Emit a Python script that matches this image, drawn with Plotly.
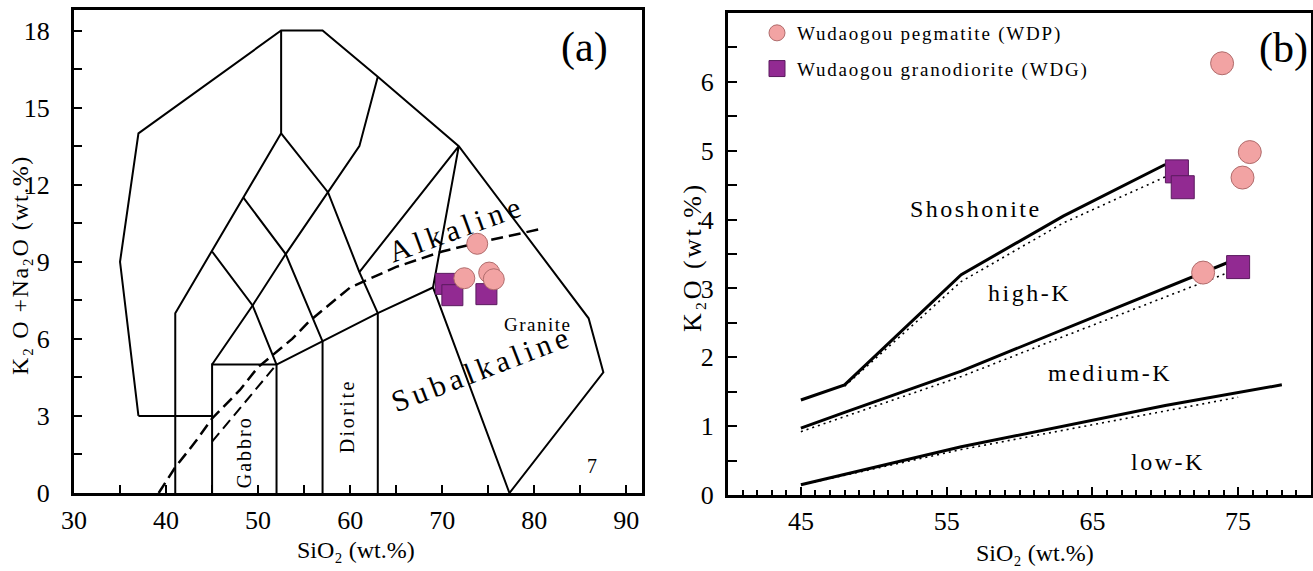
import plotly.graph_objects as go

FONT = "Liberation Serif, Times New Roman, serif"

# ---------------- data: panel (a) TAS ----------------
wdp_a_sio2 = [73.8, 72.4, 75.1, 75.6]
wdp_a_alk = [9.70, 8.36, 8.58, 8.32]
wdg_a_sio2 = [70.4, 71.1, 74.8]
wdg_a_alk = [8.14, 7.70, 7.74]

# TAS field boundaries (Middlemost 1994, plutonic)
tas_outer_x = [37, 35, 37, 52.5, 57, 63, 71.8, 85.9, 87.5, 77.3]
tas_outer_y = [3, 9, 14, 18, 18, 16.2, 13.5, 6.8, 4.7, 0]
tas_lines = [
    ([37, 45], [3, 3]),
    ([41, 41, 52.5, 52.5], [0, 7, 14, 18]),
    ([45, 45, 52, 52], [0, 5, 5, 0]),
    ([45, 49.4, 53, 57.6, 61, 63], [5, 7.3, 9.3, 11.7, 13.5, 16.2]),
    ([45, 49.4, 52], [9.4, 7.3, 5]),
    ([48.4, 53, 57, 57], [11.5, 9.3, 5.9, 0]),
    ([52, 57, 63, 69, 77.3], [5, 5.9, 7, 8, 0]),
    ([52.5, 57.6, 61, 63, 63], [14, 11.7, 8.6, 7, 0]),
    ([61, 71.8, 69], [8.6, 13.5, 8]),
]
# Alkaline / Subalkaline divide (Irvine & Baragar)
ib_x = [39.2, 41, 43.2, 45, 48, 50, 53.7, 55.6, 60, 65, 70, 74, 81]
ib_y = [0, 1, 2, 2.9, 4, 4.9, 6, 6.7, 8, 8.8, 9.4, 9.75, 10.3]
ib2_x = [45, 52]
ib2_y = [2, 5]
tas_xticks = [30, 40, 50, 60, 70, 80, 90]
tas_yticks = [0, 3, 6, 9, 12, 15, 18]

# ---------------- data: panel (b) K2O-SiO2 ----------------
wdp_b_sio2 = [73.9, 75.8, 75.3, 72.6]
wdp_b_k2o = [6.27, 4.98, 4.61, 3.23]
wdg_b_sio2 = [70.8, 71.2, 75.0]
wdg_b_k2o = [4.70, 4.47, 3.31]

k_solid = [
    ([45, 48, 56, 63, 70], [1.38, 1.6, 3.2, 4.05, 4.8]),
    ([45, 48, 56, 63, 70, 74.8], [0.97, 1.2, 1.8, 2.4, 3.0, 3.42]),
    ([45, 56, 70, 78], [0.15, 0.7, 1.3, 1.6]),
]
k_dotted = [
    ([48, 56, 63, 70], [1.58, 3.1, 3.95, 4.62]),
    ([45, 56, 63, 70, 74.2], [0.92, 1.72, 2.3, 2.88, 3.22]),
    ([45.5, 56, 70, 75], [0.17, 0.66, 1.22, 1.42]),
]
k_xticks = [45, 55, 65, 75]
k_yticks = [0, 1, 2, 3, 4, 5, 6]

circle_fill = "#F2A3A3"
circle_line = "#B06C6C"
square_fill = "#922A92"
square_line = "#5A1A5E"


def spaced(text, size, spacing):
    return f'<span style="font-size:{size}px;letter-spacing:{spacing}px">{text}</span>'


fig = go.Figure()

# panel (a) boundaries
fig.add_trace(go.Scatter(x=tas_outer_x, y=tas_outer_y, mode="lines",
                         line=dict(color="black", width=2), showlegend=False,
                         hoverinfo="skip", xaxis="x", yaxis="y"))
for lx, ly in tas_lines:
    fig.add_trace(go.Scatter(x=lx, y=ly, mode="lines",
                             line=dict(color="black", width=2), showlegend=False,
                             hoverinfo="skip", xaxis="x", yaxis="y"))
fig.add_trace(go.Scatter(x=ib_x, y=ib_y, mode="lines",
                         line=dict(color="black", width=2.5, dash="12px,6px"),
                         showlegend=False, hoverinfo="skip", xaxis="x", yaxis="y"))
fig.add_trace(go.Scatter(x=ib2_x, y=ib2_y, mode="lines",
                         line=dict(color="black", width=2, dash="11px,6px"),
                         showlegend=False, hoverinfo="skip", xaxis="x", yaxis="y"))

fig.add_trace(go.Scatter(x=wdg_a_sio2, y=wdg_a_alk, mode="markers",
                         marker=dict(symbol="square", size=21, color=square_fill,
                                     line=dict(color=square_line, width=1)),
                         showlegend=False, xaxis="x", yaxis="y"))
fig.add_trace(go.Scatter(x=wdp_a_sio2, y=wdp_a_alk, mode="markers",
                         marker=dict(symbol="circle", size=21, color=circle_fill,
                                     line=dict(color=circle_line, width=1)),
                         showlegend=False, xaxis="x", yaxis="y"))

# panel (b) lines
for lx, ly in k_solid:
    fig.add_trace(go.Scatter(x=lx, y=ly, mode="lines",
                             line=dict(color="black", width=3), showlegend=False,
                             hoverinfo="skip", xaxis="x2", yaxis="y2"))
for lx, ly in k_dotted:
    fig.add_trace(go.Scatter(x=lx, y=ly, mode="lines",
                             line=dict(color="black", width=1.6, dash="2px,4px"),
                             showlegend=False, hoverinfo="skip", xaxis="x2", yaxis="y2"))

fig.add_trace(go.Scatter(x=wdp_b_sio2, y=wdp_b_k2o, mode="markers",
                         name=spaced("Wudaogou pegmatite (WDP)", 19, 1.8),
                         legendrank=1, legendgroup="p",
                         marker=dict(symbol="circle", size=23, color=circle_fill,
                                     line=dict(color=circle_line, width=1)),
                         xaxis="x2", yaxis="y2"))
fig.add_trace(go.Scatter(x=wdg_b_sio2, y=wdg_b_k2o, mode="markers",
                         name=spaced("Wudaogou granodiorite (WDG)", 19, 1.8),
                         legendrank=2, legendgroup="g",
                         marker=dict(symbol="square", size=23, color=square_fill,
                                     line=dict(color=square_line, width=1)),
                         xaxis="x2", yaxis="y2"))

W, H = 1313, 571


def px_x(p):
    return p / W


def px_y(p):
    return 1 - p / H


axis_common = dict(showline=True, linewidth=3, linecolor="black", mirror=True,
                   ticks="inside", tickwidth=2, tickcolor="black",
                   showgrid=False, zeroline=False, automargin=False,
                   tickfont=dict(family=FONT, size=26, color="black"))

annos = []


def txt(text, x, y, size, xref="x", yref="y", angle=0, spacing=None, **kw):
    if spacing is not None:
        text = spaced(text, size, spacing)
    annos.append(dict(text=text, x=x, y=y, xref=xref, yref=yref, showarrow=False,
                      textangle=angle, font=dict(family=FONT, size=size, color="black"),
                      xanchor="center", yanchor="middle", **kw))


# panel (a) labels
txt("Alkaline", 71.5, 10.3, 30, angle=-20, spacing=5)
txt("Subalkaline", 74.3, 4.86, 30, angle=-21, spacing=4.5)
txt("Granite", 80.3, 6.55, 19, spacing=1.5)
txt("Diorite", 59.7, 3.0, 20, angle=-90, spacing=2.5)
txt("Gabbro", 48.5, 1.6, 20, angle=-90, spacing=2)
txt("7", 86.3, 1.05, 20)
txt("(a)", 85.5, 17.35, 42)

# panel (b) labels
txt("Shoshonite", 57.0, 4.16, 24, xref="x2", yref="y2", spacing=2.5)
txt("high-K", 60.7, 2.94, 24, xref="x2", yref="y2", spacing=2.5)
txt("medium-K", 66.2, 1.77, 24, xref="x2", yref="y2", spacing=2.5)
txt("low-K", 70.2, 0.48, 24, xref="x2", yref="y2", spacing=2.5)
txt("(b)", 78.1, 6.48, 42, xref="x2", yref="y2")

# axis titles
txt("SiO₂ (wt.%)", px_x(356), px_y(550), 24, xref="paper", yref="paper")
txt("K₂ O +Na₂O (wt.%)", px_x(20), px_y(265), 24,
    xref="paper", yref="paper", angle=-90, spacing=1.5)
txt("SiO₂ (wt.%)", px_x(1035), px_y(553), 24, xref="paper", yref="paper")
txt("K₂O (wt.%)", px_x(692), px_y(257), 26,
    xref="paper", yref="paper", angle=-90, spacing=2.5)

fig.update_layout(
    template="none",
    width=W, height=H,
    margin=dict(l=0, r=0, t=0, b=0, pad=0),
    paper_bgcolor="white", plot_bgcolor="white",
    font=dict(family=FONT, color="black"),
    showlegend=True,
    legend=dict(x=px_x(757), y=px_y(14), xanchor="left", yanchor="top",
                bgcolor="rgba(0,0,0,0)", traceorder="grouped", tracegroupgap=8,
                font=dict(family=FONT, size=19, color="black")),
    xaxis=dict(domain=[px_x(74), px_x(642)], range=[30, 91.7], anchor="y",
               tickvals=tas_xticks, ticklen=8, ticklabelstandoff=2,
               minor=dict(dtick=5, ticks="inside", ticklen=8, tickwidth=2, tickcolor="black"),
               **axis_common),
    yaxis=dict(domain=[px_y(493), px_y(10)], range=[0, 18.8], anchor="x",
               tickvals=tas_yticks, ticklen=8, ticklabelstandoff=16,
               minor=dict(dtick=1.5, ticks="inside", ticklen=8, tickwidth=2, tickcolor="black"),
               **axis_common),
    xaxis2=dict(domain=[px_x(728), px_x(1311)], range=[40, 80], anchor="y2",
                tickvals=k_xticks, ticklen=8, ticklabelstandoff=1,
                minor=dict(dtick=1, ticks="inside", ticklen=5, tickwidth=2, tickcolor="black"),
                **axis_common),
    yaxis2=dict(domain=[px_y(495), px_y(13)], range=[0, 7], anchor="x2",
                tickvals=k_yticks, ticklen=9, ticklabelstandoff=6,
                minor=dict(dtick=0.5, ticks="inside", ticklen=9, tickwidth=2, tickcolor="black"),
                **axis_common),
    annotations=annos,
)

fig.write_html("out.html", config={"displayModeBar": False},
               post_script="document.body.style.margin='0px';")
